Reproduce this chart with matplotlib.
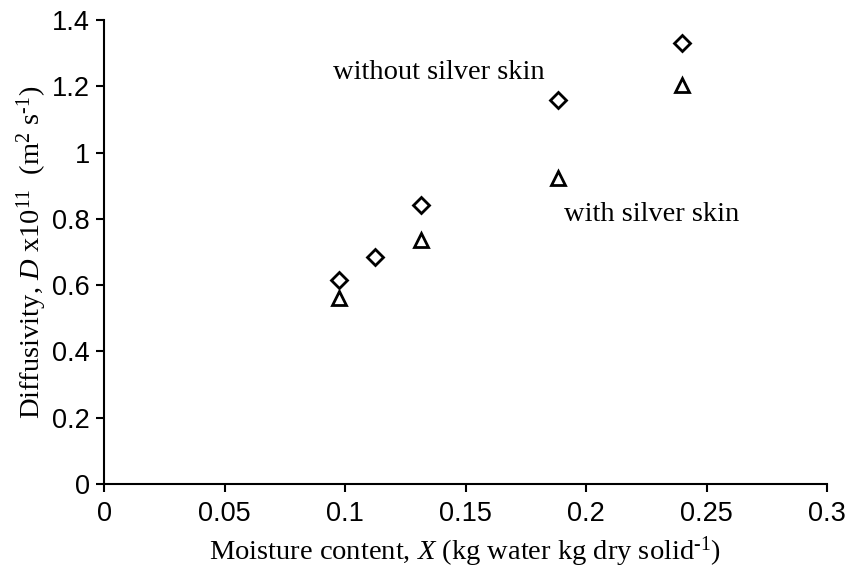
import matplotlib

matplotlib.use("Agg")
import matplotlib.pyplot as plt

plt.rcParams["mathtext.fontset"] = "custom"
plt.rcParams["mathtext.rm"] = "Liberation Serif"
plt.rcParams["mathtext.it"] = "Liberation Serif:italic"

# moisture content X (kg water / kg dry solid) vs diffusivity D x1e11 (m2/s)
x_without = [0.0976, 0.1124, 0.1314, 0.1884, 0.24]
d_without = [0.615, 0.684, 0.842, 1.159, 1.331]
x_with = [0.0976, 0.1314, 0.1884, 0.24]
d_with = [0.560, 0.736, 0.923, 1.204]

x_ticks = [0, 0.05, 0.1, 0.15, 0.2, 0.25, 0.3]
x_labels = ["0", "0.05", "0.1", "0.15", "0.2", "0.25", "0.3"]
y_ticks = [0, 0.2, 0.4, 0.6, 0.8, 1.0, 1.2, 1.4]
y_labels = ["0", "0.2", "0.4", "0.6", "0.8", "1", "1.2", "1.4"]

fig = plt.figure(figsize=(8.51, 5.72), dpi=100)
ax = fig.add_axes([104 / 851, 1 - 484 / 572, (827 - 104) / 851, (484 - 20) / 572])

ax.plot(x_without, d_without, linestyle="none", marker="D", markersize=8,
        markerfacecolor="white", markeredgecolor="black", markeredgewidth=2)
ax.plot(x_with, d_with, linestyle="none", marker="^", markersize=10,
        markerfacecolor="white", markeredgecolor="black", markeredgewidth=2)

ax.set_xlim(0, 0.3)
ax.set_ylim(0, 1.4)
ax.set_xticks(x_ticks)
ax.set_xticklabels(x_labels)
ax.set_yticks(y_ticks)
ax.set_yticklabels(y_labels)
for lbl in ax.get_xticklabels() + ax.get_yticklabels():
    lbl.set_fontfamily("Liberation Sans")
    lbl.set_fontsize(19.5)
ax.tick_params(direction="out", length=6, width=1.5)
ax.tick_params(axis="y", pad=4)
ax.tick_params(axis="x", pad=6)

for side in ("top", "right"):
    ax.spines[side].set_visible(False)
for side in ("left", "bottom"):
    ax.spines[side].set_linewidth(1.5)

# series annotations, placed in data coordinates
serif = {"family": "Liberation Serif", "size": 20.5}
ax.text(0.1388, 1.243, "without silver skin", fontdict=serif, ha="center", va="center")
ax.text(0.2272, 0.812, "with silver skin", fontdict=serif, ha="center", va="center")

ax.set_xlabel(r"Moisture content, $X$ (kg water kg dry solid$^{\text{-}1}$)",
              fontdict=serif, va="center")
ax.set_ylabel(r"Diffusivity, $D$ x10$^{11}$  (m$^{2}$ s$^{\text{-}1}$)",
              fontdict=serif, va="center")
ax.xaxis.set_label_coords(0.5, (484 - 552) / 464)
ax.yaxis.set_label_coords((32 - 104) / 723, 0.5)

fig.savefig("out.png", dpi=100)
